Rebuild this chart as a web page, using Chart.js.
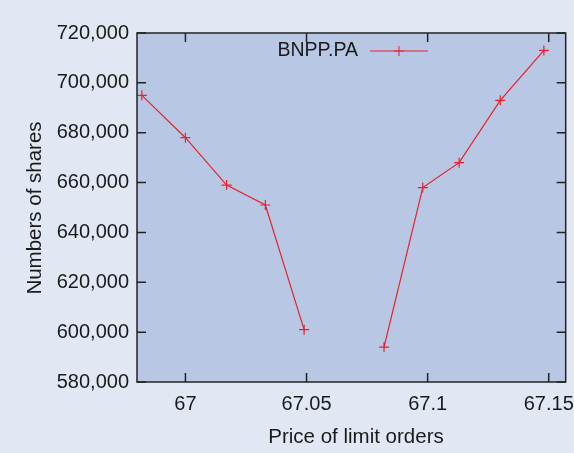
<!DOCTYPE html>
<html>
<head>
<meta charset="utf-8">
<script src="https://cdn.jsdelivr.net/npm/chart.js@4"></script>
<style>
  html, body { margin: 0; padding: 0; background: #e1e8f4; overflow: hidden; }
  #wrap { width: 584px; height: 453px; }
</style>
</head>
<body>
<div id="wrap"><canvas id="chart"></canvas></div>
<script>
// prices of limit orders and shares at each price (null = no orders, gap in line)
const prices = [66.982, 67.0, 67.017, 67.033, 67.049, 67.066, 67.082, 67.098, 67.113, 67.13, 67.148];
const shares = [695000, 678000, 659000, 651000, 601000, null, 594000, 658000, 668000, 693000, 713000];
const xTicks = [67, 67.05, 67.1, 67.15];
const seriesName = 'BNPP.PA';
const xTitle = 'Price of limit orders';
const yTitle = 'Numbers of shares';
const red = '#e8202a';
const font = '"Liberation Sans", Arial, sans-serif';

// frame, inward ticks on all four sides, legend and axis titles
const framePlugin = {
  id: 'frame',
  afterDatasetsDraw(chart) {
    const { ctx, chartArea: a, scales } = chart;
    ctx.save();
    ctx.strokeStyle = '#222';
    ctx.lineWidth = 1.5;
    ctx.strokeRect(a.left, a.top, a.right - a.left, a.bottom - a.top);
    ctx.beginPath();
    xTicks.forEach(v => {
      const x = scales.x.getPixelForValue(v);
      ctx.moveTo(x, a.bottom); ctx.lineTo(x, a.bottom - 9);
      ctx.moveTo(x, a.top); ctx.lineTo(x, a.top + 9);
    });
    for (let v = 580000; v <= 720000; v += 20000) {
      const y = scales.y.getPixelForValue(v);
      ctx.moveTo(a.left, y); ctx.lineTo(a.left + 9, y);
      ctx.moveTo(a.right, y); ctx.lineTo(a.right - 9, y);
    }
    ctx.stroke();

    ctx.fillStyle = '#1a1a1a';
    ctx.textBaseline = 'middle';
    ctx.font = '19.5px ' + font;
    ctx.textAlign = 'right';
    ctx.fillText(seriesName, 358, 51);
    ctx.font = '20.5px ' + font;
    ctx.textAlign = 'center';
    ctx.fillText(xTitle, 356, 437);
    ctx.save();
    ctx.translate(35, 208);
    ctx.rotate(-Math.PI / 2);
    ctx.fillText(yTitle, 0, 0);
    ctx.restore();

    ctx.strokeStyle = red;
    ctx.lineWidth = 1;
    ctx.beginPath();
    ctx.moveTo(370, 51); ctx.lineTo(428, 51);
    ctx.moveTo(399, 46); ctx.lineTo(399, 56);
    ctx.moveTo(394, 51); ctx.lineTo(404, 51);
    ctx.stroke();
    ctx.restore();
  }
};

new Chart(document.getElementById('chart'), {
  type: 'line',
  data: {
    datasets: [{
      label: seriesName,
      data: prices.map((p, i) => ({ x: p, y: shares[i] })),
      borderColor: red,
      borderWidth: 1.2,
      pointStyle: 'cross',
      pointRadius: 5,
      pointBorderColor: red,
      pointBorderWidth: 1.2,
      spanGaps: false,
      tension: 0
    }]
  },
  options: {
    responsive: true,
    maintainAspectRatio: false,
    animation: false,
    layout: { padding: { top: 33, right: 0, left: 0, bottom: 0 } },
    plugins: {
      legend: { display: false },
      tooltip: { enabled: false }
    },
    scales: {
      x: {
        type: 'linear',
        min: 66.98,
        max: 67.157,
        afterBuildTicks: s => { s.ticks = xTicks.map(v => ({ value: v })); },
        afterFit: s => { s.height = 71; },
        grid: { display: false, drawTicks: false },
        border: { display: false },
        ticks: {
          color: '#1a1a1a',
          padding: 10,
          font: { family: font, size: 20 },
          callback: v => String(v)
        }
      },
      y: {
        min: 580000,
        max: 720000,
        afterFit: s => { s.width = 137; },
        grid: { display: false, drawTicks: false },
        border: { display: false },
        ticks: {
          stepSize: 20000,
          color: '#1a1a1a',
          padding: 8,
          font: { family: font, size: 20 },
          callback: v => v.toLocaleString('en-US')
        }
      }
    }
  },
  plugins: [{
    id: 'plotBg',
    beforeDraw(chart) {
      const { ctx, chartArea: a } = chart;
      ctx.save();
      ctx.fillStyle = '#b8c8e4';
      ctx.fillRect(a.left, a.top, a.right - a.left, a.bottom - a.top);
      ctx.restore();
    }
  }, framePlugin]
});
</script>
</body>
</html>
